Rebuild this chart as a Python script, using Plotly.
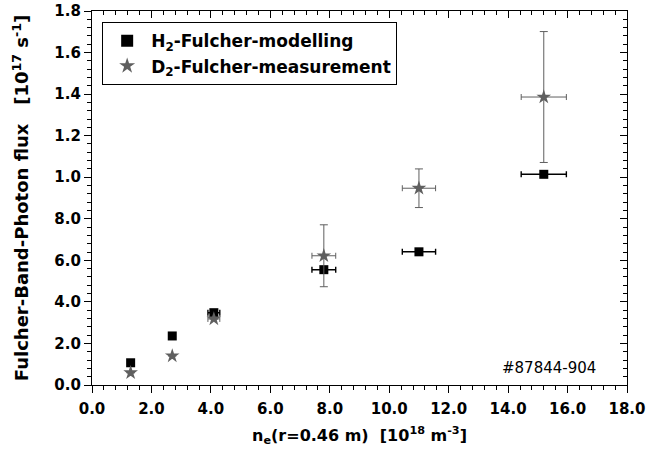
import plotly.graph_objects as go

# Data
ne = [1.3, 2.7, 4.1, 7.8, 11.0, 15.2]           # 10^18 m^-3
ne_err = [0.0, 0.0, 0.2, 0.4, 0.56, 0.76]
flux_model = [0.107, 0.236, 0.348, 0.555, 0.641, 1.014]   # 10^17 s^-1
flux_meas = [0.059, 0.140, 0.318, 0.622, 0.947, 1.386]
flux_meas_err = [0.0, 0.0, 0.0, 0.149, 0.093, 0.315]

x_ticks = [0, 2, 4, 6, 8, 10, 12, 14, 16, 18]
x_ticktext = ["0.0", "2.0", "4.0", "6.0", "8.0", "10.0", "12.0", "14.0", "16.0", "18.0"]
y_ticks = [0, 0.2, 0.4, 0.6, 0.8, 1.0, 1.2, 1.4, 1.6, 1.8]
y_ticktext = ["0.0", "2.0", "4.0", "6.0", "8.0", "1.0", "1.2", "1.4", "1.6", "1.8"]

FONT = "DejaVu Sans"

fig = go.Figure()
fig.add_trace(go.Scatter(
    x=ne, y=flux_model, mode="markers",
    name="<b>H<sub>2</sub>-Fulcher-modelling</b>",
    marker=dict(symbol="square", size=9, color="black"),
    error_x=dict(type="data", array=ne_err, color="black", thickness=1.4, width=3),
))
fig.add_trace(go.Scatter(
    x=ne, y=flux_meas, mode="markers",
    name="<b>D<sub>2</sub>-Fulcher-measurement</b>",
    marker=dict(symbol="star", size=11, color="#5f5f5f"),
    error_x=dict(type="data", array=ne_err, color="#5f5f5f", thickness=1, width=3),
    error_y=dict(type="data", array=flux_meas_err, color="#5f5f5f", thickness=1, width=4),
))
# invisible trace to anchor the mirrored top/right axes
fig.add_trace(go.Scatter(
    x=ne, y=flux_model, xaxis="x2", yaxis="y2", mode="markers",
    marker=dict(opacity=0), showlegend=False, hoverinfo="skip",
))

axis_common = dict(showgrid=False, zeroline=False, showline=True, linecolor="black",
                   linewidth=1.3, tickcolor="black", tickwidth=1.3, automargin=False)

fig.update_layout(
    width=649, height=455,
    margin=dict(l=92, r=22, t=11, b=70),
    paper_bgcolor="white", plot_bgcolor="white",
    font=dict(family=FONT, color="black", size=15),
    showlegend=True,
    legend=dict(x=0.019, y=0.97, xanchor="left", yanchor="top",
                bordercolor="black", borderwidth=1, bgcolor="white",
                font=dict(family=FONT, size=17, color="black"),
                tracegroupgap=0, itemsizing="constant", itemwidth=38),
    xaxis=dict(range=[0, 18], tickvals=x_ticks, ticktext=x_ticktext,
               ticks="outside", ticklen=7, ticklabelstandoff=3,
               ticklabeloverflow="allow",
               minor=dict(dtick=0.4, tick0=0, ticks="outside", ticklen=4,
                          tickcolor="black", tickwidth=1.3),
               tickfont=dict(family=FONT, size=15, weight="bold"),
               title=dict(text="<b>n<sub>e</sub>(r=0.46 m)  [10<sup>18</sup> m<sup>-3</sup>]</b>",
                          font=dict(family=FONT, size=16), standoff=12),
               **axis_common),
    yaxis=dict(range=[0, 1.8], tickvals=y_ticks, ticktext=y_ticktext,
               ticks="outside", ticklen=7, ticklabeloverflow="allow",
               minor=dict(dtick=0.04, tick0=0, ticks="outside", ticklen=4,
                          tickcolor="black", tickwidth=1.3),
               tickfont=dict(family=FONT, size=15, weight="bold"),
               title=dict(text="<b>Fulcher-Band-Photon flux   [10<sup>17</sup> s<sup>-1</sup>]</b>",
                          font=dict(family=FONT, size=18), standoff=20),
               **axis_common),
    xaxis2=dict(range=[0, 18], overlaying="x", side="top", tickvals=x_ticks,
                showticklabels=False, ticks="inside", ticklen=7,
                minor=dict(dtick=0.4, tick0=0, ticks="inside", ticklen=4,
                           tickcolor="black", tickwidth=1.3),
                **axis_common),
    yaxis2=dict(range=[0, 1.8], overlaying="y", side="right", tickvals=y_ticks,
                showticklabels=False, ticks="inside", ticklen=7,
                minor=dict(dtick=0.04, tick0=0, ticks="inside", ticklen=4,
                           tickcolor="black", tickwidth=1.3),
                **axis_common),
    annotations=[dict(text="#87844-904", xref="paper", yref="paper", x=0.946, y=0.045,
                      xanchor="right", yanchor="middle", showarrow=False,
                      font=dict(family=FONT, size=15, color="black"))],
)

# remove the default page margin so the 649x455 figure fills the window exactly
fig.write_html("out.html", config={"displayModeBar": False},
               post_script="document.body.style.margin='0';")
